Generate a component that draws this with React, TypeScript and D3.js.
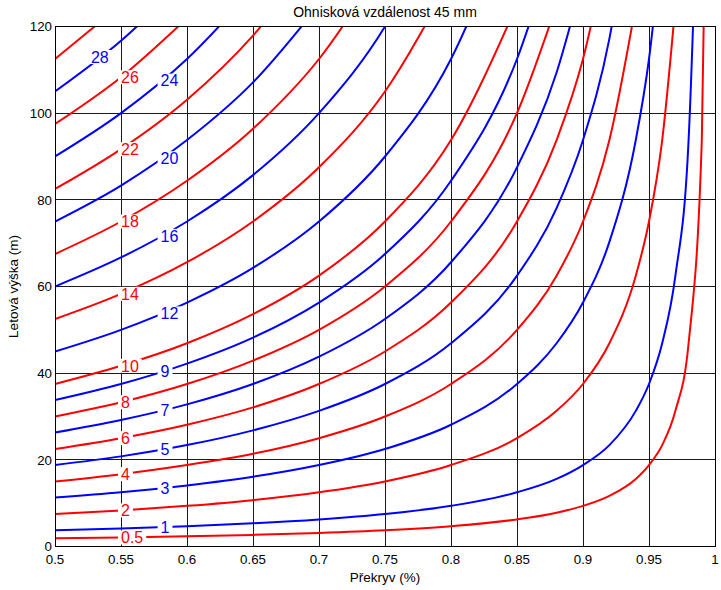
import React, { useEffect, useRef } from 'react';
import * as d3 from 'd3';

// overlap values (x) where the curve heights were read
const overlap = [0.5, 0.55, 0.6, 0.65, 0.7, 0.75, 0.8, 0.85, 0.88, 0.9, 0.92, 0.94, 0.95, 0.96, 0.97, 0.98, 0.99, 0.995];

// contour levels, each with its flight height (m) at the overlap values above
const levels = [0.5, 1, 2, 3, 4, 5, 6, 7, 8, 9, 10, 12, 14, 16, 18, 20, 22, 24, 26, 28, 30];
const heights = [
    [1.88, 2.08, 2.34, 2.68, 3.13, 3.75, 4.69, 6.25, 7.81, 9.38, 11.7, 15.6, 18.8, 23.4, 31.3, 46.9, 93.8, 187.5],
    [3.75, 4.17, 4.69, 5.36, 6.25, 7.5, 9.38, 12.5, 15.6, 18.8, 23.4, 31.3, 37.5, 46.9, 62.5, 93.8, 187.5],
    [7.5, 8.33, 9.38, 10.7, 12.5, 15, 18.8, 25, 31.3, 37.5, 46.9, 62.5, 75, 93.8, 125],
    [11.3, 12.5, 14.1, 16.1, 18.8, 22.5, 28.1, 37.5, 46.9, 56.3, 70.3, 93.8, 112.5, 140.6],
    [15, 16.7, 18.8, 21.4, 25, 30, 37.5, 50, 62.5, 75, 93.8, 125],
    [18.8, 20.8, 23.4, 26.8, 31.3, 37.5, 46.9, 62.5, 78.1, 93.8, 117.2, 156.3],
    [22.5, 25, 28.1, 32.1, 37.5, 45, 56.3, 75, 93.8, 112.5, 140.6],
    [26.3, 29.2, 32.8, 37.5, 43.8, 52.5, 65.6, 87.5, 109.4, 131.3],
    [30, 33.3, 37.5, 42.9, 50, 60, 75, 100, 125],
    [33.8, 37.5, 42.2, 48.2, 56.3, 67.5, 84.4, 112.5, 140.6],
    [37.5, 41.7, 46.9, 53.6, 62.5, 75, 93.8, 125],
    [45, 50, 56.3, 64.3, 75, 90, 112.5, 150],
    [52.5, 58.3, 65.6, 75, 87.5, 105, 131.3],
    [60, 66.7, 75, 85.7, 100, 120, 150],
    [67.5, 75, 84.4, 96.4, 112.5, 135],
    [75, 83.3, 93.8, 107.1, 125],
    [82.5, 91.7, 103.1, 117.9, 137.5],
    [90, 100, 112.5, 128.6],
    [97.5, 108.3, 121.9],
    [105, 116.7, 131.3],
    [112.5, 125],
];

// where each contour label sits (overlap), null = no label
const labelAt = [0.55, 0.58, 0.55, 0.58, 0.55, 0.58, 0.55, 0.58, 0.55, 0.58, 0.55, 0.58, 0.55, 0.58, 0.55, 0.58, 0.55, 0.58, 0.55, 0.534, null];
const labelAnchor = ['start', 'start', 'start', 'start', 'start', 'start', 'start', 'start', 'start', 'start', 'start',
    'start', 'start', 'start', 'start', 'start', 'start', 'start', 'start', 'middle', 'start'];

const xTicks = [0.5, 0.55, 0.6, 0.65, 0.7, 0.75, 0.8, 0.85, 0.9, 0.95, 1];
const xTickLabels = ['0.5', '0.55', '0.6', '0.65', '0.7', '0.75', '0.8', '0.85', '0.9', '0.95', '1'];
const yTicks = [0, 20, 40, 60, 80, 100, 120];

const title = 'Ohnisková vzdálenost 45 mm';
const xTitle = 'Překryv (%)';
const yTitle = 'Letová výška (m)';

function heightAt(hs: number[], t: number) {
    for (let i = 0; i < hs.length - 1; i++) {
        if (t >= overlap[i] && t <= overlap[i + 1]) {
            const f = (t - overlap[i]) / (overlap[i + 1] - overlap[i]);
            return hs[i] + f * (hs[i + 1] - hs[i]);
        }
    }
    return hs[0];
}

export default function App() {
    const ref = useRef<SVGSVGElement>(null);

    useEffect(() => {
        const width = 721, height = 590;
        const left = 55, right = 715, top = 26.5, bottom = 546.5;
        const font = '"Liberation Sans", Arial, sans-serif';

        const svg = d3.select(ref.current);
        svg.selectAll('*').remove();
        svg.attr('width', width).attr('height', height);

        svg.append('rect').attr('width', width).attr('height', height).attr('fill', '#fff');

        const x = d3.scaleLinear().domain([0.5, 1]).range([left, right]);
        const y = d3.scaleLinear().domain([0, 120]).range([bottom, top]);

        svg.append('defs').append('clipPath').attr('id', 'plotclip')
            .append('rect')
            .attr('x', left).attr('y', top)
            .attr('width', right - left).attr('height', bottom - top);

        // grid
        const grid = svg.append('g')
            .attr('stroke', '#1a1a1a')
            .attr('stroke-width', 1)
            .attr('shape-rendering', 'crispEdges');
        grid.selectAll('line.v').data(xTicks).enter().append('line')
            .attr('x1', d => x(d)).attr('x2', d => x(d))
            .attr('y1', top).attr('y2', bottom);
        grid.selectAll('line.h').data(yTicks).enter().append('line')
            .attr('x1', left).attr('x2', right)
            .attr('y1', d => y(d)).attr('y2', d => y(d));

        // contour curves
        const line = d3.line<[number, number]>()
            .x(d => x(d[0]))
            .y(d => y(d[1]))
            .curve(d3.curveMonotoneX);

        const colorOf = (i: number) => (i % 2 === 0 ? '#ff0000' : '#0000ff');

        svg.append('g').attr('clip-path', 'url(#plotclip)')
            .selectAll('path')
            .data(heights)
            .enter()
            .append('path')
            .attr('d', hs => line(hs.map((h, i) => [overlap[i], h] as [number, number])))
            .attr('fill', 'none')
            .attr('stroke', (_, i) => colorOf(i))
            .attr('stroke-width', 2);

        // contour labels with white boxes
        const lbl = svg.append('g');
        levels.forEach((lv, i) => {
            const at = labelAt[i];
            if (at === null) return;
            const cx = x(at);
            const cy = y(heightAt(heights[i], at));
            const g = lbl.append('g');
            const box = g.append('rect').attr('fill', '#fff');
            const t = g.append('text')
                .attr('x', cx)
                .attr('y', cy + 5.7)
                .attr('text-anchor', labelAnchor[i])
                .attr('font-family', font)
                .attr('font-size', 16)
                .attr('fill', colorOf(i))
                .text(String(lv));
            const w = (t.node() as SVGTextElement).getComputedTextLength();
            const x0 = labelAnchor[i] === 'middle' ? cx - w / 2 : cx;
            box.attr('x', x0 - 3).attr('y', cy - 7).attr('width', w + 6).attr('height', 14);
        });

        // frame
        svg.append('rect')
            .attr('x', left).attr('y', top)
            .attr('width', right - left).attr('height', bottom - top)
            .attr('fill', 'none').attr('stroke', '#000').attr('stroke-width', 1)
            .attr('shape-rendering', 'crispEdges');

        // tick labels
        svg.append('g').selectAll('text').data(xTicks).enter().append('text')
            .attr('x', d => x(d))
            .attr('y', 564)
            .attr('text-anchor', 'middle')
            .attr('font-family', font)
            .attr('font-size', 13.3)
            .attr('fill', '#000')
            .text((_, i) => xTickLabels[i]);

        svg.append('g').selectAll('text').data(yTicks).enter().append('text')
            .attr('x', 52)
            .attr('y', d => y(d) + 4.7)
            .attr('text-anchor', 'end')
            .attr('font-family', font)
            .attr('font-size', 13.3)
            .attr('fill', '#000')
            .text(d => String(d));

        // titles
        svg.append('text')
            .attr('x', (left + right) / 2).attr('y', 16.5)
            .attr('text-anchor', 'middle')
            .attr('font-family', font).attr('font-size', 14)
            .text(title);

        svg.append('text')
            .attr('x', (left + right) / 2).attr('y', 582)
            .attr('text-anchor', 'middle')
            .attr('font-family', font).attr('font-size', 13.5)
            .text(xTitle);

        svg.append('text')
            .attr('transform', `translate(18,${(top + bottom) / 2}) rotate(-90)`)
            .attr('text-anchor', 'middle')
            .attr('font-family', font).attr('font-size', 13.5)
            .text(yTitle);
    }, []);

    return (
        <svg ref={ref} style={{ position: 'absolute', left: 0, top: 0, display: 'block' }}></svg>
    );
}
